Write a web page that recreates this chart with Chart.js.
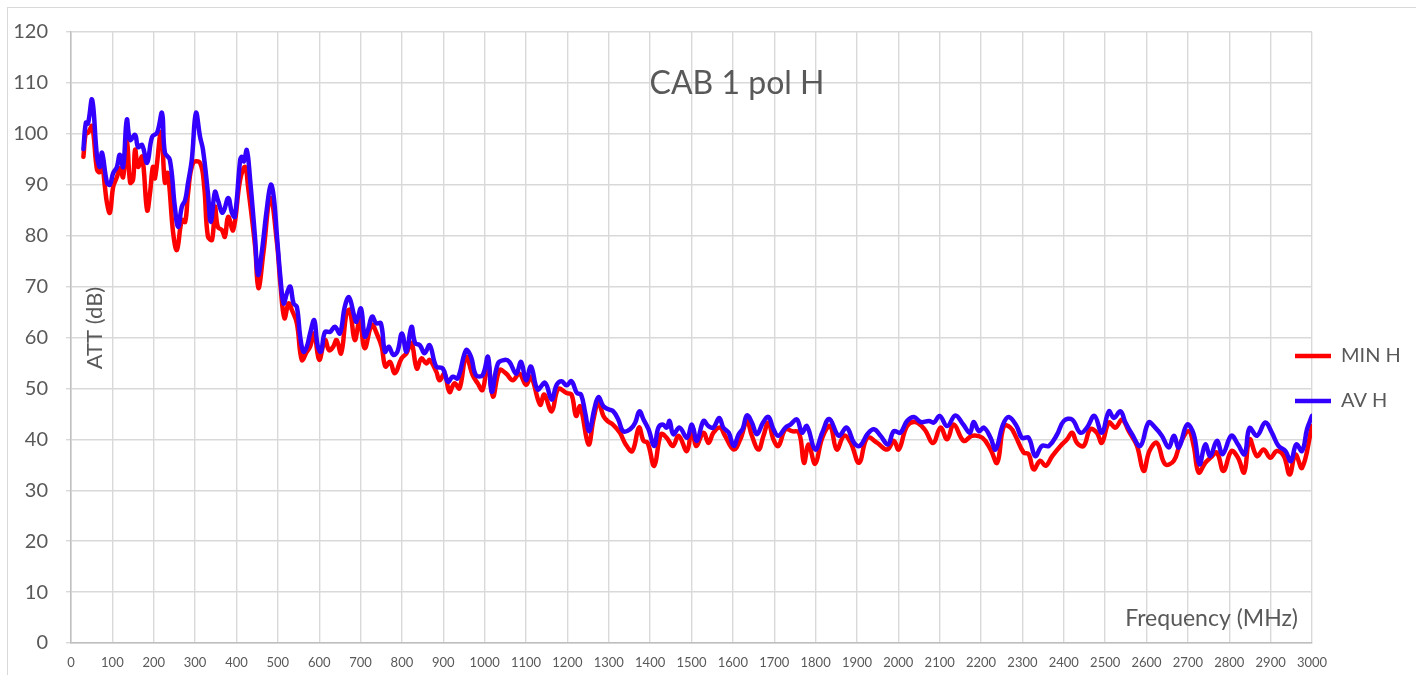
<!DOCTYPE html>
<html>
<head>
  <title>CAB 1 pol H</title>
  <script src="https://cdn.jsdelivr.net/npm/chart.js"></script>
  <style>
    body { margin: 0; background: #fff; overflow: hidden; }
    #frame { position: absolute; left: 7px; top: 7px; width: 1430px; height: 690px; border: 1px solid #d9d9d9; }
    #wrap { position: absolute; left: 0; top: 0; width: 1416px; height: 675px; }
  </style>
</head>
<body>
  <div id="frame"></div>
  <div id="wrap"><canvas id="attChart"></canvas></div>

  <script>
    // AV H readings (MHz, dB)
    const avFreq = [30,36,41,51,63,70,75,87,94,102,111,118,126,135,143,155,162,172,184,196,208,220,227,239,251,259,268,276,283,292,302,312,319,331,338,348,355,367,380,389,396,409,413,418,425,433,445,452,461,473,483,490,498,506,514,522,530,538,546,554,562,570,578,588,596,604,614,626,638,650,662,672,685,690,701,710,718,728,738,749,759,768,779,789,800,811,823,832,843,855,867,883,899,911,923,935,955,967,979,995,1008,1017,1032,1048,1060,1076,1088,1100,1112,1128,1146,1162,1174,1186,1198,1210,1223,1233,1243,1253,1265,1275,1287,1299,1311,1323,1335,1352,1364,1374,1384,1396,1410,1420,1431,1440,1447,1456,1471,1489,1501,1513,1529,1541,1553,1567,1577,1590,1602,1614,1624,1634,1646,1658,1673,1686,1698,1710,1727,1739,1755,1767,1779,1799,1816,1833,1856,1875,1893,1907,1925,1941,1957,1975,1989,2005,2021,2038,2054,2074,2086,2100,2118,2138,2157,2173,2182,2195,2207,2223,2235,2253,2267,2286,2299,2315,2331,2347,2364,2384,2400,2420,2440,2456,2474,2492,2509,2521,2537,2549,2565,2585,2605,2621,2637,2654,2666,2678,2698,2714,2728,2742,2754,2770,2784,2805,2821,2837,2849,2867,2887,2903,2919,2936,2949,2962,2976,2988,3000];
    const avVals = [97,102.2,102,106.7,95.5,93.5,96.3,90.4,90,92.3,93.5,95.9,93.5,102.8,98.8,99.8,97.4,97.8,94.3,99.4,100.2,104.1,96.3,94.9,85.7,81.7,85.7,87,90.4,94.9,104.1,99.4,96.9,88.4,82.7,88.6,87,84.5,87.4,84.5,83.7,94.9,95.5,94.6,96.8,91,79.5,72.3,76.6,85,90,87.7,79.8,72,66.7,68.7,70,66.7,66,60.2,57.2,58.2,60.8,63.4,58.5,57.2,61.1,61.1,62.1,60.8,66.1,67.9,64.1,63.1,65.7,60.2,61.5,64.1,62.8,62.8,57.2,58.2,56.6,57.2,60.8,57.2,62.1,58.9,58.5,56.9,58.5,54.3,53.9,51.3,52.3,52,57.5,56.2,52.6,52.6,56.2,49.3,54.9,55.6,55.2,52.9,55.2,51.6,54.3,49.8,51.1,47.8,50.7,51.4,50.6,51.4,49.1,48.8,45.2,41.6,45.9,48.3,46.5,45.9,45.5,43.9,41.6,42,43.3,45.5,43.9,42,38.7,42.3,42.9,42.3,43.6,41,42.3,40.3,42.9,39.7,43.6,42.6,42.3,44.2,42.3,41.3,38.7,41,42.1,44.7,43.3,41,43.3,44.4,42,40.7,42.3,42.9,43.9,41.3,42.6,38,41.3,44,40.7,42.3,39.3,38.7,41,42,40.7,39,41.6,41.3,43.6,44.4,43.4,43.6,43.3,44.6,42.6,44.7,42.9,41.3,43.4,41.6,42.3,40.3,38,42.9,44.4,42.6,40.3,40.3,36.7,38.7,38.7,41,43.6,43.9,41.3,42.3,44.6,41.3,45.5,44.2,45.5,43.3,41,38.7,43.3,42.3,40.7,38.4,40.7,38.4,42.9,41,35.1,39,36.7,39.7,37.1,40.7,39,37.1,42.2,40.7,43.3,41.3,38.7,37.7,35.7,39,37.7,42,44.6];

    // MIN H readings (MHz, dB)
    const minFreq = [30,36,41,51,63,70,75,82,87,94,102,111,118,126,135,143,150,155,162,172,184,191,198,203,218,227,234,247,256,268,276,283,295,312,322,331,341,348,355,365,372,380,392,409,421,428,445,453,465,482,498,506,516,526,534,546,558,570,578,588,600,614,624,634,642,653,666,674,686,698,710,727,739,751,760,771,783,799,811,823,836,847,859,867,883,891,903,915,927,939,955,971,983,995,1008,1020,1036,1052,1068,1084,1100,1112,1134,1144,1162,1178,1198,1210,1221,1231,1251,1263,1275,1287,1297,1310,1327,1341,1357,1373,1384,1394,1410,1426,1440,1455,1469,1489,1501,1511,1529,1541,1553,1569,1581,1602,1618,1634,1646,1662,1674,1686,1698,1710,1727,1743,1760,1772,1783,1799,1816,1835,1851,1869,1885,1905,1925,1949,1973,1989,2001,2021,2041,2063,2084,2102,2118,2134,2158,2178,2203,2223,2239,2255,2271,2283,2303,2315,2327,2343,2356,2372,2392,2408,2420,2432,2448,2464,2480,2492,2509,2525,2541,2557,2577,2593,2607,2625,2645,2666,2682,2702,2714,2726,2742,2755,2770,2786,2805,2821,2836,2849,2867,2883,2899,2915,2932,2946,2960,2976,3000];
    const minVals = [95.5,100.4,100.2,101.5,92.9,92.5,94.3,89.6,86.4,84.5,89.6,91.5,93.3,91.5,98.8,90.4,91,96.9,93.5,95.5,85,88.4,93.5,91.3,100.4,90.4,92.3,80.5,77.2,83.1,82.7,88.4,94.3,94.3,89.6,79.8,79.2,85.7,81.7,81.1,79.8,83.7,81.1,91,93.5,89.6,77.9,69.7,76.6,87.4,78.5,70.7,63.8,66.7,65.4,62.8,55.6,57.2,58.2,60.8,55.6,59.5,57.5,58.2,59.5,56.9,64.8,65.4,59.5,63.4,57.9,62.5,60.8,58.2,54.3,55.2,53,55.9,56.9,58.9,53.9,55.9,54.9,55.6,53.3,51.6,52.9,49.3,51,50,56.2,52.6,51,49.7,55.2,48.4,53.6,52.9,51.6,52.9,50.7,52.3,46.8,48.8,45.5,49.9,49.1,48.8,44.6,46.5,39,43.9,47.2,44.6,43.6,42.9,41.3,39,37.7,42.3,39.7,39.3,34.8,41,40.3,38.7,40.7,37.7,42.6,38.7,41.3,39.3,41.3,42.3,40.7,38,40,43.6,40.7,38,40.7,43.3,40,38.7,42,41.6,41.3,35.4,39,35.2,40.3,42.6,38,40.7,39.3,35.4,40.3,39.3,38,39.7,38,42.6,43.4,42,39.3,42.3,40,42.9,39.7,40.7,40.3,38,35.4,42.6,42.3,40.7,37.4,37.1,34.1,35.8,34.8,36.7,38.7,40,41.3,39.3,38.7,42,41.3,39.3,43.3,42.3,43.9,41.6,38.7,33.8,37.7,39.3,35.1,35.8,39.3,41.6,38.7,33.5,35.4,36.4,37.4,33.8,37.7,36.4,33.5,40,36.7,38,36.4,37.7,36.7,33.1,37,34.4,42.6];

    const seriesNames = ["MIN H", "AV H"];
    const chartTitle = "CAB 1 pol H";
    const yTitle = "ATT (dB)";
    const xTitle = "Frequency (MHz)";

    const textGray = "#595959";
    const gridGray = "#d9d9d9";

    // legend sits partly over the plot edge like the Excel original
    const legendPlace = {
      id: "legendPlace",
      beforeLayout(chart) {
        const lg = chart.legend;
        if (lg && !lg._fixed) {
          const fit = lg.fit;
          lg.fit = function () { fit.call(this); this.width = 104; };
          lg._fixed = true;
        }
      },
      afterLayout(chart) {
        const lg = chart.legend;
        lg.left = 1270; lg.right = 1416;
        lg.top = 321; lg.bottom = 643;
      }
    };

    // titles drawn inside the plot area
    const innerTitles = {
      id: "innerTitles",
      afterDraw(chart) {
        const ctx = chart.ctx;
        ctx.save();
        ctx.fillStyle = textGray;
        ctx.textBaseline = "middle";
        ctx.font = "32px Lato";
        ctx.textAlign = "center";
        ctx.fillText(chartTitle, 737, 84);
        ctx.font = "23px Lato";
        ctx.textAlign = "right";
        ctx.fillText(xTitle, 1298, 619);
        ctx.translate(95, 328);
        ctx.rotate(-Math.PI / 2);
        ctx.textAlign = "center";
        ctx.font = "22px Lato";
        ctx.fillText(yTitle, 0, 0);
        ctx.restore();
      }
    };

    const toPoints = (xs, ys) => xs.map((f, i) => ({ x: f, y: ys[i] }));

    new Chart(document.getElementById("attChart"), {
      type: "line",
      data: {
        datasets: [
          {
            label: seriesNames[0],
            data: toPoints(minFreq, minVals),
            borderColor: "#ff0000",
            backgroundColor: "#ff0000",
            borderWidth: 4.5,
            order: 2
          },
          {
            label: seriesNames[1],
            data: toPoints(avFreq, avVals),
            borderColor: "#3300ff",
            backgroundColor: "#3300ff",
            borderWidth: 4.5,
            order: 1
          }
        ]
      },
      options: {
        responsive: true,
        maintainAspectRatio: false,
        animation: false,
        layout: { padding: { top: 32, right: 0, bottom: 0, left: 0 } },
        elements: {
          point: { radius: 0 },
          line: { tension: 0.4, borderCapStyle: "round", borderJoinStyle: "round" }
        },
        plugins: {
          title: { display: false },
          tooltip: { enabled: false },
          legend: {
            position: "right",
            align: "start",
            labels: {
              usePointStyle: true,
              pointStyle: "line",
              pointStyleWidth: 36,
              padding: 25,
              color: textGray,
              font: { family: "Lato", size: 20 },
              sort: (a, b) => a.datasetIndex - b.datasetIndex
            }
          }
        },
        scales: {
          x: {
            type: "linear",
            min: 0,
            max: 3000,
            afterFit: (s) => { s.height = 32; },
            ticks: {
              stepSize: 100,
              autoSkip: false,
              maxRotation: 0,
              padding: 12,
              color: textGray,
              font: { family: "Lato", size: 13 },
              callback: (v) => String(v)
            },
            grid: { color: gridGray, lineWidth: 1.4, drawTicks: false },
            border: { color: "#bfbfbf", width: 1.5 }
          },
          y: {
            min: 0,
            max: 120,
            afterFit: (s) => { s.width = 71; },
            ticks: {
              stepSize: 10,
              padding: 18,
              color: textGray,
              font: { family: "Lato", size: 20 },
              callback: (v) => String(v)
            },
            grid: { color: gridGray, lineWidth: 1.4, tickLength: 5 },
            border: { color: "#bfbfbf", width: 1.5 }
          }
        }
      },
      plugins: [legendPlace, innerTitles]
    });
  </script>
</body>
</html>
